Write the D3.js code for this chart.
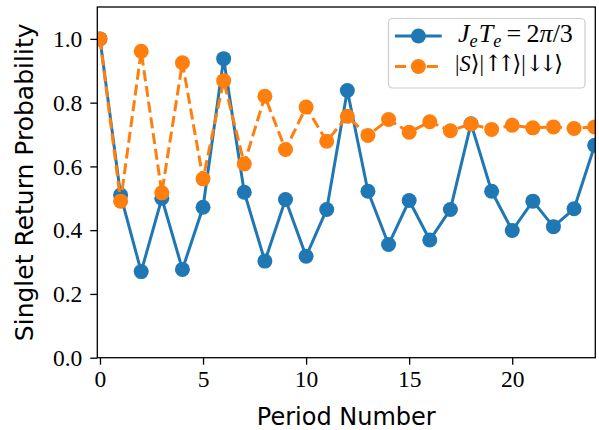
<!DOCTYPE html>
<html>
<head>
<meta charset="utf-8">
<script src="https://cdn.jsdelivr.net/npm/d3@7"></script>
<style>
  html, body { margin: 0; padding: 0; background: #fff; }
  svg { display: block; }
</style>
</head>
<body>
<svg id="chart" width="599" height="430"></svg>
<script>
// Period index 0..24
const periods = d3.range(0, 25);

// Singlet return probability, J_e T_e = 2π/3
const jeTeValues = [1.0, 0.51, 0.27, 0.50, 0.277, 0.472, 0.938, 0.519, 0.303, 0.496,
  0.318, 0.465, 0.838, 0.522, 0.355, 0.493, 0.369, 0.465, 0.734, 0.522,
  0.399, 0.491, 0.411, 0.467, 0.666];

// Singlet return probability, |S>|↑↑>|↓↓> initial state
const mixedValues = [1.0, 0.491, 0.961, 0.517, 0.925, 0.561, 0.869, 0.608, 0.82, 0.653,
  0.786, 0.679, 0.757, 0.697, 0.747, 0.707, 0.74, 0.712, 0.733, 0.716,
  0.729, 0.721, 0.724, 0.719, 0.724];

const xTicks = [0, 5, 10, 15, 20];
const yTicks = [0.0, 0.2, 0.4, 0.6, 0.8, 1.0];

const colors = { JeTe: "#1f77b4", mixed: "#ff7f0e" };

const svg = d3.select("#chart");
const box = { left: 97.3, right: 595.3, top: 7, bottom: 357.7 };

const x = d3.scaleLinear().domain([-0.13, 24.03]).range([box.left, box.right]);
const y = d3.scaleLinear().domain([0, 1.1]).range([box.bottom, box.top]);

svg.append("defs").append("clipPath").attr("id", "plotClip")
  .append("rect")
  .attr("x", box.left).attr("y", box.top)
  .attr("width", box.right - box.left).attr("height", box.bottom - box.top);

const plot = svg.append("g").attr("clip-path", "url(#plotClip)");

const line = d3.line().x(d => x(d[0])).y(d => y(d[1]));

function drawSeries(values, color, dashed) {
  const pts = periods.map((p, i) => [p, values[i]]);
  plot.append("path")
    .datum(pts)
    .attr("d", line)
    .attr("fill", "none")
    .attr("stroke", color)
    .attr("stroke-width", 3)
    .attr("stroke-linejoin", "round")
    .attr("stroke-dasharray", dashed ? "11.1 4.8" : null);
  plot.append("g").selectAll("circle")
    .data(pts)
    .join("circle")
    .attr("cx", d => x(d[0]))
    .attr("cy", d => y(d[1]))
    .attr("r", 7.5)
    .attr("fill", color);
}

drawSeries(jeTeValues, colors.JeTe, false);
drawSeries(mixedValues, colors.mixed, true);

// Axes
const tickFont = "'Liberation Serif', 'DejaVu Serif', serif";
const xAxis = svg.append("g")
  .attr("transform", `translate(0,${box.bottom})`)
  .call(d3.axisBottom(x).tickValues(xTicks).tickFormat(d3.format("d")).tickSize(7).tickPadding(5));
const yAxis = svg.append("g")
  .attr("transform", `translate(${box.left},0)`)
  .call(d3.axisLeft(y).tickValues(yTicks).tickFormat(d3.format(".1f")).tickSize(7).tickPadding(8));

[xAxis, yAxis].forEach(a => {
  a.select(".domain").remove();
  a.selectAll(".tick line").attr("stroke", "#000").attr("stroke-width", 1.3);
  a.selectAll(".tick text")
    .attr("fill", "#000")
    .style("font-family", tickFont)
    .style("font-size", "23.5px");
});
yAxis.selectAll(".tick text").attr("dy", "0.33em");
xAxis.selectAll(".tick text").attr("dy", "0.75em");

// Frame
svg.append("rect")
  .attr("x", box.left).attr("y", box.top)
  .attr("width", box.right - box.left).attr("height", box.bottom - box.top)
  .attr("fill", "none").attr("stroke", "#000").attr("stroke-width", 1.3);

// Axis titles
const labelFont = "'DejaVu Sans', sans-serif";
svg.append("text")
  .attr("x", (box.left + box.right) / 2)
  .attr("y", 424.5)
  .attr("text-anchor", "middle")
  .style("font-family", labelFont)
  .style("font-size", "24px")
  .text("Period Number");

svg.append("text")
  .attr("transform", `translate(33,${(box.top + box.bottom) / 2}) rotate(-90)`)
  .attr("text-anchor", "middle")
  .style("font-family", labelFont)
  .style("font-size", "25px")
  .text("Singlet Return Probability");

// Legend
const legend = svg.append("g");
legend.append("rect")
  .attr("x", 388.5).attr("y", 18.5)
  .attr("width", 196.5).attr("height", 69.5)
  .attr("rx", 4).attr("ry", 4)
  .attr("fill", "#fff").attr("fill-opacity", 0.8)
  .attr("stroke", "#cccccc").attr("stroke-width", 1.2);

const legendRows = [
  { key: "JeTe", y: 36, dashed: false },
  { key: "mixed", y: 66.5, dashed: true }
];
legendRows.forEach(r => {
  legend.append("line")
    .attr("x1", 395).attr("x2", 441.7)
    .attr("y1", r.y).attr("y2", r.y)
    .attr("stroke", colors[r.key]).attr("stroke-width", 3)
    .attr("stroke-dasharray", r.dashed ? "11.1 4.8" : null);
  legend.append("circle")
    .attr("cx", 418.4).attr("cy", r.y).attr("r", 7.5)
    .attr("fill", colors[r.key]);
});

// Scale a label's font so it spans the given width, then line its left edge up
function fitBox(sel, left, width) {
  let b = sel.node().getBBox();
  const fs = parseFloat(sel.style("font-size"));
  if (b.width > 0) sel.style("font-size", (fs * width / b.width).toFixed(2) + "px");
  b = sel.node().getBBox();
  sel.attr("x", +sel.attr("x") + (left - b.x));
}

const mathFont = "'Liberation Serif', 'DejaVu Serif', serif";
const t1 = legend.append("text")
  .attr("x", 458).attr("y", 42)
  .style("font-family", mathFont)
  .style("font-size", "22px");
t1.append("tspan").style("font-style", "italic").text("J");
t1.append("tspan").style("font-style", "italic").style("font-size", "0.7em").attr("dy", "0.25em").text("e");
t1.append("tspan").style("font-style", "italic").attr("dy", "-0.175em").attr("dx", "0.04em").text("T");
t1.append("tspan").style("font-style", "italic").style("font-size", "0.7em").attr("dy", "0.25em").text("e");
t1.append("tspan").attr("dy", "-0.175em").text("\u2009=\u2009");
t1.append("tspan").text("2");
t1.append("tspan").style("font-style", "italic").text("\u03c0");
t1.append("tspan").text("/3");
fitBox(t1, 458, 115);

const t2 = legend.append("text")
  .attr("x", 455).attr("y", 71)
  .style("font-family", mathFont)
  .style("font-size", "22px");
const arrowFont = "'DejaVu Serif', serif";
t2.append("tspan").text("|");
t2.append("tspan").style("font-style", "italic").text("S");
t2.append("tspan").style("font-family", arrowFont).text("\u27e9");
t2.append("tspan").text("|");
t2.append("tspan").style("font-family", arrowFont).style("letter-spacing", "-0.25em").text("\u2191\u2191");
t2.append("tspan").attr("dx", "0.1em").style("font-family", arrowFont).text("\u27e9");
t2.append("tspan").text("|");
t2.append("tspan").style("font-family", arrowFont).style("letter-spacing", "-0.25em").text("\u2193\u2193");
t2.append("tspan").attr("dx", "0.1em").style("font-family", arrowFont).text("\u27e9");
fitBox(t2, 455, 108);
</script>
</body>
</html>
